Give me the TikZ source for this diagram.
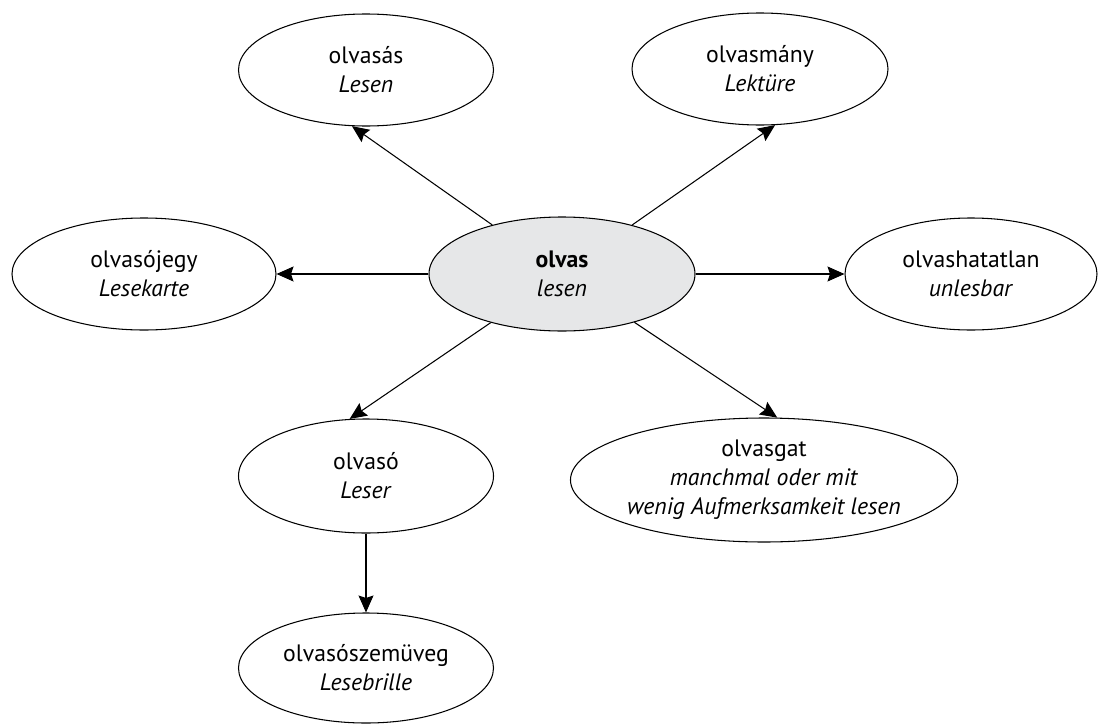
\documentclass[tikz,border=0pt]{standalone}
\usepackage{fontspec}
\setmainfont{PT Sans}
\usetikzlibrary{shapes.geometric,arrows.meta}
\definecolor{rootgray}{RGB}{230,231,232}

\begin{document}
\begin{tikzpicture}[x=0.2mm,y=-0.2mm,
    word/.style={draw, ellipse, inner sep=0pt, line width=0.6pt, align=center,
        minimum width=51mm, minimum height=22.4mm,
        font=\fontsize{13.5}{16.5}\selectfont},
    root/.style={word, fill=rootgray, minimum width=53.2mm, minimum height=22.8mm},
    link/.style={-{Stealth[length=3.4mm,width=3mm,inset=0.5mm]}, line width=0.6pt}]
    \useasboundingbox (0,0) rectangle (1100,724);

    % the root word in the middle
    \node[root] (olvas) at (562,274) {\textbf{olvas}\\\textit{lesen}};

    % derived words
    \node[word] (olvasas) at (366,70) {olvasás\\\textit{Lesen}};
    \node[word, minimum width=51.2mm] (olvasmany) at (760,69) {olvasmány\\\textit{Lektüre}};
    \node[word, minimum width=52.8mm] (olvasojegy) at (144,274) {olvasójegy\\\textit{Lesekarte}};
    \node[word, minimum width=50.4mm] (olvashatatlan) at (971,274) {olvashatatlan\\\textit{unlesbar}};
    \node[word, minimum height=22.8mm] (olvaso) at (366,476) {olvasó\\\textit{Leser}};
    \node[word, minimum width=68.4mm, minimum height=24.8mm] (olvasgat) at (764,480)
        {olvasgat\\\textit{manchmal oder mit}\\\textit{wenig Aufmerksamkeit lesen}};
    \node[word, minimum height=22mm] (olvasoszemuveg) at (366,668) {olvasószemüveg\\\textit{Lesebrille}};

    \draw[link] (olvas) -- (olvasas.-104);
    \draw[link] (olvas) -- (olvasmany.-75);
    \draw[link] (olvas) -- (olvasojegy);
    \draw[link] (olvas) -- (olvashatatlan);
    \draw[link] (olvas) -- (olvaso.106);
    \draw[link] (olvas) -- (olvasgat.78);
    \draw[link] (olvaso) -- (olvasoszemuveg);
\end{tikzpicture}
\end{document}
